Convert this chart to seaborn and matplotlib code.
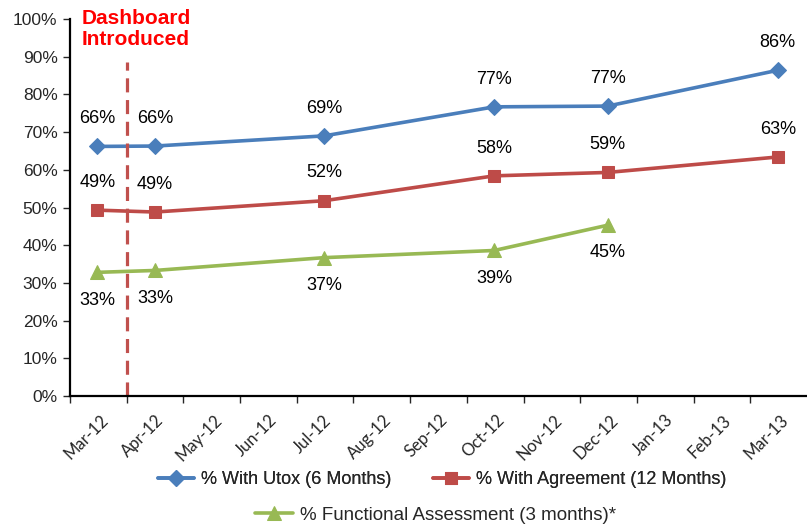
import calendar
import pandas as pd
import matplotlib
matplotlib.use("Agg")
import matplotlib.pyplot as plt
import seaborn as sns
from matplotlib.ticker import PercentFormatter
from matplotlib.transforms import ScaledTranslation

# ---------------------------------------------------------
# Data
# ---------------------------------------------------------
month_labels = ["Mar-12", "Apr-12", "May-12", "Jun-12", "Jul-12", "Aug-12", "Sep-12",
                "Oct-12", "Nov-12", "Dec-12", "Jan-13", "Feb-13", "Mar-13"]
measure_dates = ["2012-03-16", "2012-04-16", "2012-07-16", "2012-10-16", "2012-12-16", "2013-03-16"]
utox = [66.2, 66.3, 69.0, 76.7, 76.9, 86.4]
agreement = [49.3, 48.8, 51.8, 58.4, 59.3, 63.4]
functional = [32.8, 33.3, 36.7, 38.6, 45.3]
dashboard_date = "2012-04-01"

series_names = ["% With Utox (6 Months)", "% With Agreement (12 Months)",
                "% Functional Assessment (3 months)*"]
colors = ["#4A7EBB", "#BE4B48", "#98B954"]
markers = ["D", "s", "^"]


def month_pos(d):
    # evenly spaced months like Excel's date axis, starting at Mar-12
    t = pd.Timestamp(d)
    days = calendar.monthrange(t.year, t.month)[1]
    return (t.year - 2012) * 12 + t.month - 3 + (t.day - 1) / days


x_all = [month_pos(d) for d in measure_dates]

sns.set_style("white")
plt.rcParams['font.family'] = ['Liberation Sans', 'DejaVu Sans']

fig = plt.figure(figsize=(8.07, 5.24), dpi=100)
ax = fig.add_axes([70 / 807, 128 / 524, 737 / 807, 377 / 524])

all_values = [utox, agreement, functional]
sizes = {"D": 8, "s": 9, "^": 10}
for name, vals, col, mk in zip(series_names, all_values, colors, markers):
    df = pd.DataFrame({"x": x_all[:len(vals)], "y": [v / 100 for v in vals]})
    sns.lineplot(data=df, x="x", y="y", ax=ax, color=col, marker=mk, markersize=sizes[mk],
                 markeredgecolor=col, linewidth=2.6, label=name)
    below = mk == "^"
    for xv, yv in zip(df["x"], df["y"]):
        ax.annotate(f"{round(yv * 100):.0f}%", (xv, yv),
                    xytext=(0, -20 if below else 20), textcoords="offset points",
                    ha="center", va="center", fontsize=13, color="black")

# dashboard introduction marker
ax.axvline(month_pos(dashboard_date), ymin=0, ymax=0.886, color="#C0504D",
           linewidth=2.3, dashes=(4.4, 2.4))
fig.text(82 / 807, 1 - 9 / 524, "Dashboard\nIntroduced", color="#FF0000",
         fontsize=15, fontweight="bold", va="top", ha="left", linespacing=1.15)

ax.set_xlim(0, 13)
ax.set_ylim(0, 1)
ax.set_yticks([i / 10 for i in range(11)])
ax.yaxis.set_major_formatter(PercentFormatter(1.0, decimals=0))
ax.tick_params(axis="y", labelsize=12.5, length=5, width=1, direction="out", left=True, pad=4)
ax.tick_params(axis="x", length=5, width=1, direction="out", bottom=True, pad=6.5)
ax.set_xticks(range(len(month_labels)))
ax.set_xticklabels(month_labels, rotation=45, ha="center", va="top",
                   fontsize=12, family=["Lato", "DejaVu Sans"])
# Excel puts the rotated labels a bit to the right of their tick
shift = ScaledTranslation(16 / 100, 0, fig.dpi_scale_trans)
for lbl in ax.xaxis.get_majorticklabels():
    lbl.set_transform(lbl.get_transform() + shift)
ax.set_xlabel("")
ax.set_ylabel("")
for side in ["top", "right"]:
    ax.spines[side].set_visible(False)
for side in ["left", "bottom"]:
    ax.spines[side].set_color("black")
    ax.spines[side].set_linewidth(1.6)

handles, labels = ax.get_legend_handles_labels()
ax.get_legend().remove()
leg1 = fig.legend(handles[:2], labels[:2], loc="center", bbox_to_anchor=(442 / 807, 1 - 480 / 524),
                  ncol=2, frameon=False, fontsize=13, handlelength=2.0, columnspacing=2.3,
                  handletextpad=0.4)
fig.legend(handles[2:], labels[2:], loc="center", bbox_to_anchor=(436 / 807, 1 - 515 / 524),
           frameon=False, fontsize=13.5, handlelength=2.0, handletextpad=0.4)
fig.add_artist(leg1)

fig.savefig("out.png", dpi=100)
